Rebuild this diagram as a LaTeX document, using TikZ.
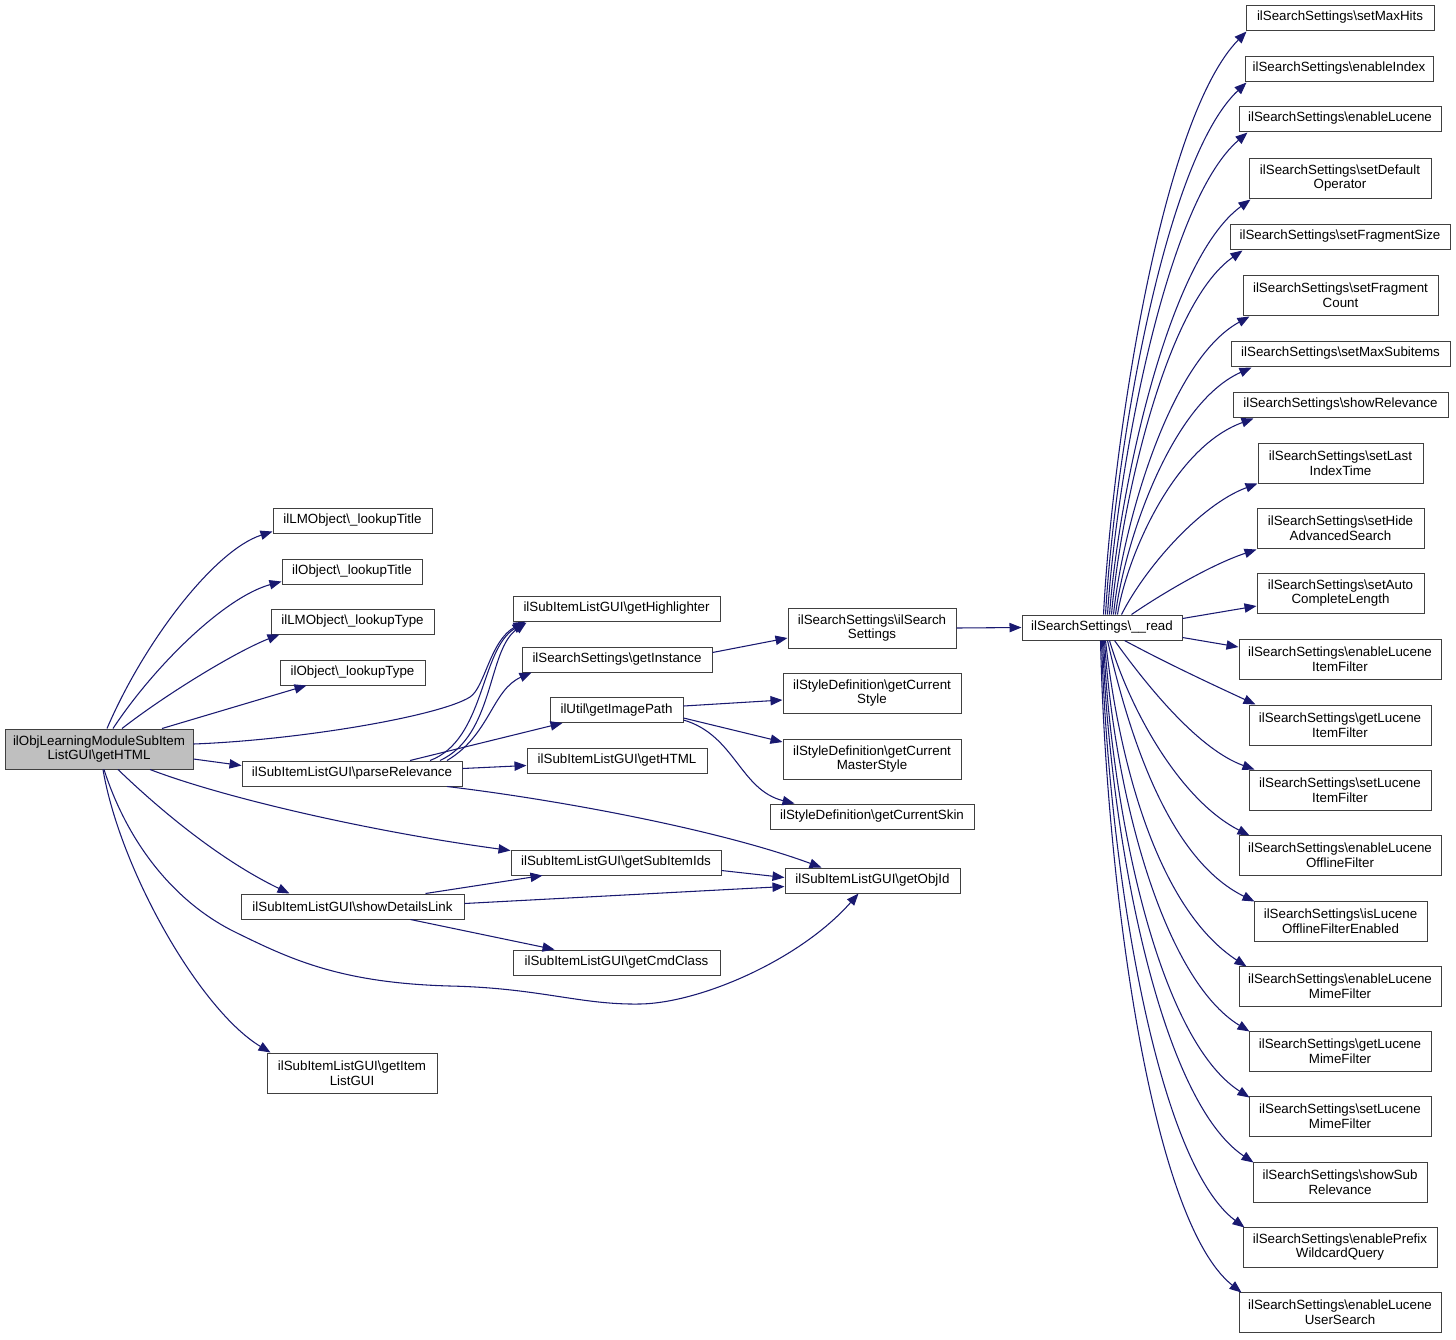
\documentclass[tikz,border=0pt]{standalone}
\usepackage{fontspec}
\setmainfont{Liberation Sans}
\usetikzlibrary{arrows.meta,calc}
\definecolor{edgeblue}{HTML}{191970}
\definecolor{mainfill}{HTML}{BFBFBF}
\newcommand{\bksl}{\textbackslash}
\begin{document}
\begin{tikzpicture}[x=0.75pt,y=-0.75pt,
  font=\fontsize{10pt}{11pt}\selectfont,
  box/.style={draw=black!75,line width=0.75pt,fill=white,inner sep=0pt,align=center,minimum height=18.75pt},
  bw/.style={minimum width=#1*0.75pt},
  two/.style={minimum height=30pt},
  calledge/.style={draw=edgeblue,line width=0.8pt,-{Triangle[length=9pt,width=7pt]}}]
\useasboundingbox (0,0) rectangle (1456,1339);

% nodes
\node[box,bw=188,two,fill=mainfill] (main) at (99,749) {ilObjLearningModuleSubItem\\ListGUI\bksl getHTML};
\node[box,bw=159] (lt1) at (352.5,520.5) {ilLMObject\bksl\_lookupTitle};
\node[box,bw=140] (ot1) at (352,571.5) {ilObject\bksl\_lookupTitle};
\node[box,bw=163] (lty) at (352.5,621.5) {ilLMObject\bksl\_lookupType};
\node[box,bw=145] (oty) at (352.5,672.5) {ilObject\bksl\_lookupType};
\node[box,bw=220] (pr) at (352,773.5) {ilSubItemListGUI\bksl parseRelevance};
\node[box,bw=223] (sd) at (352.5,906.5) {ilSubItemListGUI\bksl showDetailsLink};
\node[box,bw=170,two] (gil) at (352,1073) {ilSubItemListGUI\bksl getItem\\ListGUI};

\node[box,bw=207] (gh) at (616.5,608.5) {ilSubItemListGUI\bksl getHighlighter};
\node[box,bw=190] (gi) at (617,659.5) {ilSearchSettings\bksl getInstance};
\node[box,bw=133] (ip) at (616.5,710) {ilUtil\bksl getImagePath};
\node[box,bw=180] (gh2) at (617,760.5) {ilSubItemListGUI\bksl getHTML};
\node[box,bw=210] (sii) at (616,862.5) {ilSubItemListGUI\bksl getSubItemIds};
\node[box,bw=207] (gcc) at (616.5,962.5) {ilSubItemListGUI\bksl getCmdClass};

\node[box,bw=168,two] (iss) at (872,628) {ilSearchSettings\bksl ilSearch\\Settings};
\node[box,bw=178,two] (gcs) at (872,693) {ilStyleDefinition\bksl getCurrent\\Style};
\node[box,bw=178,two] (gcm) at (872,759) {ilStyleDefinition\bksl getCurrent\\MasterStyle};
\node[box,bw=204] (gsk) at (872,816.5) {ilStyleDefinition\bksl getCurrentSkin};
\node[box,bw=175] (goi) at (872.5,880.5) {ilSubItemListGUI\bksl getObjId};

\node[box,bw=160] (rd) at (1102,627.5) {ilSearchSettings\bksl\_\_read};

\node[box,bw=188] (r1) at (1340,17.5) {ilSearchSettings\bksl setMaxHits};
\node[box,bw=188] (r2) at (1339,68.5) {ilSearchSettings\bksl enableIndex};
\node[box,bw=202] (r3) at (1340,118.5) {ilSearchSettings\bksl enableLucene};
\node[box,bw=182,two] (r4) at (1340,178) {ilSearchSettings\bksl setDefault\\Operator};
\node[box,bw=220] (r5) at (1340,236.5) {ilSearchSettings\bksl setFragmentSize};
\node[box,bw=195,two] (r6) at (1340.5,295) {ilSearchSettings\bksl setFragment\\Count};
\node[box,bw=219] (r7) at (1340.5,353.5) {ilSearchSettings\bksl setMaxSubitems};
\node[box,bw=215] (r8) at (1340.5,404.5) {ilSearchSettings\bksl showRelevance};
\node[box,bw=165,two] (r9) at (1340.5,463) {ilSearchSettings\bksl setLast\\IndexTime};
\node[box,bw=167,two] (r10) at (1340.5,528) {ilSearchSettings\bksl setHide\\AdvancedSearch};
\node[box,bw=167,two] (r11) at (1340.5,593) {ilSearchSettings\bksl setAuto\\CompleteLength};
\node[box,bw=202,two] (r12) at (1340,659) {ilSearchSettings\bksl enableLucene\\ItemFilter};
\node[box,bw=182,two] (r13) at (1340,725) {ilSearchSettings\bksl getLucene\\ItemFilter};
\node[box,bw=182,two] (r14) at (1340,790) {ilSearchSettings\bksl setLucene\\ItemFilter};
\node[box,bw=202,two] (r15) at (1340,855) {ilSearchSettings\bksl enableLucene\\OfflineFilter};
\node[box,bw=173,two] (r16) at (1340.5,921) {ilSearchSettings\bksl isLucene\\OfflineFilterEnabled};
\node[box,bw=202,two] (r17) at (1340,986) {ilSearchSettings\bksl enableLucene\\MimeFilter};
\node[box,bw=182,two] (r18) at (1340,1051) {ilSearchSettings\bksl getLucene\\MimeFilter};
\node[box,bw=182,two] (r19) at (1340,1116) {ilSearchSettings\bksl setLucene\\MimeFilter};
\node[box,bw=174,two] (r20) at (1340,1182) {ilSearchSettings\bksl showSub\\Relevance};
\node[box,bw=194,two] (r21) at (1340,1247) {ilSearchSettings\bksl enablePrefix\\WildcardQuery};
\node[box,bw=202,two] (r22) at (1340,1312) {ilSearchSettings\bksl enableLucene\\UserSearch};

% edges from main
\draw[calledge] ($(main.north)+(8,0)$) .. controls (145,640) and (215,550) .. ($(lt1.south west)+(0,-2)$);
\draw[calledge] ($(main.north)+(14,0)$) .. controls (155,665) and (225,597) .. ($(ot1.south west)+(0,-3)$);
\draw[calledge] ($(main.north)+(23,0)$) .. controls (165,695) and (235,652) .. ($(lty.south west)+(9,0)$);
\draw[calledge] ($(main.north)+(63,0)$) -- ($(oty.south west)+(27,0)$);
\draw[calledge] ($(main.east)+(0,-5)$) .. controls (300,740) and (440,716) .. (470,697) .. controls (485,687.5) and (490,640) .. ($(gh.south west)+(13,0)$);
\draw[calledge] ($(main.east)+(0,10)$) -- ($(pr.west)+(0,-8)$);
\draw[calledge] ($(main.south)+(51,0)$) .. controls (230,800) and (380,833) .. ($(sii.west)+(0,-12)$);
\draw[calledge] ($(main.south)+(19,0)$) .. controls (160,810) and (220,860) .. ($(sd.north west)+(49,0)$);
\draw[calledge] ($(main.south)+(5,0)$) .. controls (130,850) and (180,905) .. (235,932) .. controls (290,959) and (340,983) .. (450,986) .. controls (540,988) and (580,1005) .. (640,1004) .. controls (700,1003) and (800,960) .. ($(goi.south)+(-14,0)$);
\draw[calledge] ($(main.south)+(4,0)$) .. controls (120,870) and (200,1010) .. ($(gil.north west)+(4,0)$);

% edges from parseRelevance
\draw[calledge] ($(pr.north)+(78,0)$) .. controls (485,740) and (480,650) .. ($(gh.south west)+(12,1)$);
\draw[calledge] ($(pr.north)+(88,0)$) .. controls (495,735) and (487,650) .. ($(gh.south west)+(14,1)$);
\draw[calledge] ($(pr.north)+(95,0)$) .. controls (490,735) and (492,690) .. ($(gi.south west)+(10,0)$);
\draw[calledge] ($(pr.north)+(58,0)$) -- ($(ip.south west)+(13,0)$);
\draw[calledge] ($(pr.east)+(0,-5)$) -- ($(gh2.west)+(0,5)$);
\draw[calledge] ($(pr.south)+(95,0)$) .. controls (560,800) and (720,830) .. ($(goi.north west)+(37,0)$);

% edges from showDetailsLink
\draw[calledge] ($(sd.north)+(73,0)$) -- ($(sii.south west)+(32,0)$);
\draw[calledge] ($(sd.east)+(0,-3)$) -- ($(goi.west)+(0,6)$);
\draw[calledge] ($(sd.south)+(58,0)$) -- ($(gcc.north west)+(42,0)$);
\draw[calledge] ($(sii.east)+(0,8)$) -- ($(goi.west)+(0,-3)$);

% column 3 -> 4
\draw[calledge] ($(gi.east)+(0,-7)$) -- ($(iss.west)+(0,10)$);
\draw[calledge] ($(ip.east)+(0,-4)$) -- ($(gcs.west)+(0,7)$);
\draw[calledge] ($(ip.east)+(0,8)$) -- ($(gcm.west)+(0,-17)$);
\draw[calledge] ($(ip.east)+(0,10)$) .. controls (735,735) and (740,790) .. ($(gsk.north west)+(25,0)$);
\draw[calledge] (iss.east) -- (rd.west);

% fan from __read (upper)
\draw[calledge] ($(rd.north west)+(82,0)$) .. controls (1112,450) and (1160,120) .. ($(r1.south west)+(1,1)$);
\draw[calledge] ($(rd.north west)+(84,0)$) .. controls (1114,466) and (1162,162) .. ($(r2.south west)+(2,1)$);
\draw[calledge] ($(rd.north west)+(86,0)$) .. controls (1116,480) and (1164,204) .. ($(r3.south west)+(9,1)$);
\draw[calledge] ($(rd.north west)+(88,0)$) .. controls (1118,499) and (1166,261) .. ($(r4.south west)+(2,1)$);
\draw[calledge] ($(rd.north west)+(90,0)$) .. controls (1120,513) and (1164,305) .. ($(r5.south west)+(13,1)$);
\draw[calledge] ($(rd.north west)+(92,0)$) .. controls (1122,531) and (1168,361) .. ($(r6.south west)+(7,1)$);
\draw[calledge] ($(rd.north west)+(94,0)$) .. controls (1124,545) and (1170,404) .. ($(r7.south west)+(21,1)$);
\draw[calledge] ($(rd.north west)+(96,0)$) .. controls (1126,560) and (1172,448) .. ($(r8.south west)+(21,1)$);
\draw[calledge] ($(rd.north west)+(100,0)$) .. controls (1145,568) and (1200,505) .. ($(r9.south west)+(0,0)$);
\draw[calledge] ($(rd.north west)+(110,0)$) .. controls (1160,595) and (1210,565) .. ($(r10.south west)+(0,1)$);
\draw[calledge] ($(rd.east)+(0,-9)$) -- ($(r11.west)+(0,13)$);

% fan from __read (lower)
\draw[calledge] ($(rd.east)+(0,10)$) -- ($(r12.west)+(0,-12)$);
\draw[calledge] ($(rd.south west)+(103,0)$) .. controls (1170,665) and (1220,688) .. ($(r13.north west)+(7,0)$);
\draw[calledge] ($(rd.south west)+(93,0)$) .. controls (1150,690) and (1200,750) .. ($(r14.north west)+(6,0)$);
\draw[calledge] ($(rd.south west)+(88,0)$) .. controls (1130,710) and (1180,800) .. ($(r15.north west)+(11,1)$);
\draw[calledge] ($(rd.south west)+(86,0)$) .. controls (1130,740) and (1170,860) .. ($(r16.north west)+(1,1)$);
\draw[calledge] ($(rd.south west)+(84,0)$) .. controls (1120,770) and (1160,910) .. ($(r17.north west)+(8,1)$);
\draw[calledge] ($(rd.south west)+(83,0)$) .. controls (1115,800) and (1165,980) .. ($(r18.north west)+(1,1)$);
\draw[calledge] ($(rd.south west)+(82,0)$) .. controls (1112,820) and (1160,1040) .. ($(r19.north west)+(1,2)$);
\draw[calledge] ($(rd.south west)+(81,0)$) .. controls (1110,840) and (1160,1100) .. ($(r20.north west)+(1,1)$);
\draw[calledge] ($(rd.south west)+(80,0)$) .. controls (1108,860) and (1155,1160) .. ($(r21.north west)+(2,1)$);
\draw[calledge] ($(rd.south west)+(79,0)$) .. controls (1106,880) and (1150,1220) .. ($(r22.north west)+(3,1)$);
\end{tikzpicture}
\end{document}
